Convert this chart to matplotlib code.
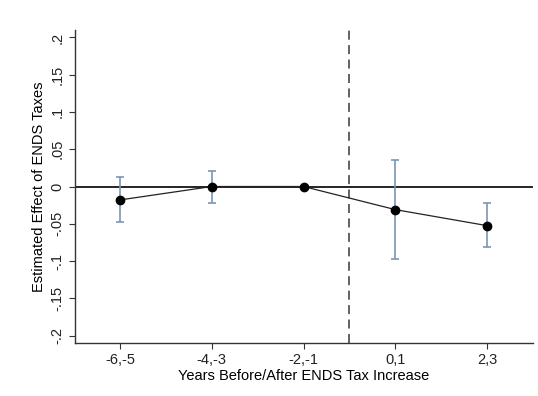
import matplotlib.pyplot as plt
from matplotlib.ticker import FixedLocator

plt.rcParams['font.family'] = ['Liberation Sans', 'DejaVu Sans']

periods = ['-6,-5', '-4,-3', '-2,-1', '0,1', '2,3']
estimate = [-0.018, 0.0, 0.0, -0.031, -0.0525]
ci_low = [-0.048, -0.022, 0.0, -0.097, -0.0815]
ci_high = [0.0125, 0.021, 0.0, 0.035, -0.022]
yticks = [-0.2, -0.15, -0.1, -0.05, 0, 0.05, 0.1, 0.15, 0.2]
ytick_labels = ['-.2', '-.15', '-.1', '-.05', '0', '.05', '.1', '.15', '.2']

fig = plt.figure(figsize=(5.38, 3.96), dpi=100)
ax = fig.add_axes([0.1394, 0.1338, 0.8513, 0.7904])

x = list(range(len(periods)))
ci_color = '#7a96b3'

# confidence intervals (skip reference period with no CI)
for xi, lo, hi in zip(x, ci_low, ci_high):
    if hi - lo > 0:
        ax.errorbar([xi], [(lo + hi) / 2], yerr=[[(hi - lo) / 2], [(hi - lo) / 2]],
                    fmt='none', ecolor=ci_color, elinewidth=1.2, capsize=3, capthick=1.2, zorder=2)

ax.axhline(0, color='black', linewidth=1.2, zorder=1)
ax.axvline(2.5, color='#555555', linewidth=1.3, linestyle=(0, (5, 3)), zorder=1)
ax.plot(x, estimate, color='#222222', linewidth=0.9, marker='o', markersize=6,
        markerfacecolor='black', markeredgecolor='black', zorder=3)

ax.set_xlim(-0.49, 4.5)
ax.set_ylim(-0.21, 0.21)
ax.set_xticks(x)
ax.set_xticklabels(periods, fontsize=10.5)
ax.yaxis.set_major_locator(FixedLocator(yticks))
ax.set_yticklabels(ytick_labels, fontsize=10.5, rotation=90, va='center')

ax.set_xlabel('Years Before/After ENDS Tax Increase', fontsize=10.5, labelpad=1)
ax.set_ylabel('Estimated Effect of ENDS Taxes', fontsize=10.5, labelpad=3)

for side in ['top', 'right']:
    ax.spines[side].set_visible(False)
for side in ['left', 'bottom']:
    ax.spines[side].set_color('#333333')
    ax.spines[side].set_linewidth(1.0)
ax.tick_params(axis='both', colors='#333333', length=4, width=0.8, labelcolor='#222222')

fig.savefig('out.png', dpi=100, facecolor='white')
